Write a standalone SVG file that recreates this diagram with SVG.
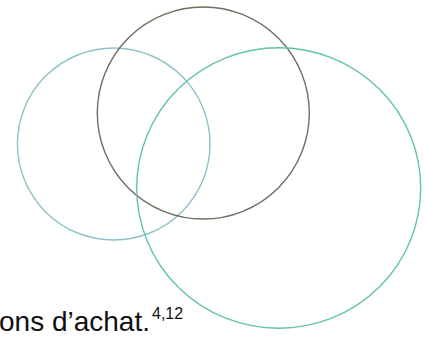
<svg xmlns="http://www.w3.org/2000/svg" width="425" height="339" viewBox="0 0 425 339">
<style>
.c{fill:none;stroke-width:1.4}
.t{font-family:"Liberation Sans",Arial,sans-serif;fill:#111}
</style>
<rect width="425" height="339" fill="#fff"/>
<g id="left"><ellipse class="c" cx="113.7" cy="144" rx="96.3" ry="96" stroke="#8cc3c9"/></g>
<g id="top"><circle class="c" cx="203.3" cy="113" r="106" stroke="#706c5e"/></g>
<g id="big"><ellipse class="c" cx="278.7" cy="188" rx="142" ry="140.3" stroke="#62c2ac"/></g>
<g id="connectors"/>
<text class="t" x="-1" y="331" font-size="28">ons d’achat.<tspan font-size="16" dx="2" dy="-12">4,12</tspan></text>
</svg>
